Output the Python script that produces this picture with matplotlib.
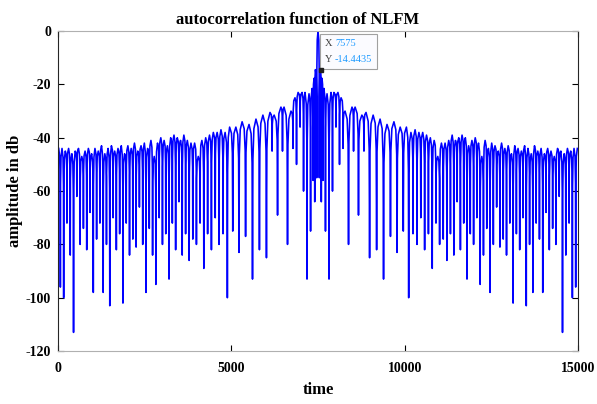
import numpy as np
import matplotlib
matplotlib.use("Agg")
import matplotlib.pyplot as plt
from matplotlib.offsetbox import TextArea, HPacker, VPacker, AnnotationBbox

# Left half of the autocorrelation (it is symmetric about t = 7500).
# Each lobe: time of its top, top level (dB), level of the null after it (dB).
t_peak = [20, 115, 210, 305, 400, 495, 590, 685, 780, 875,
          970, 1065, 1160, 1255, 1350, 1445, 1540, 1635, 1730, 1825,
          1920, 2015, 2110, 2205, 2300, 2395, 2490, 2585, 2680, 2775,
          2870, 2965, 3060, 3155, 3250, 3345, 3440, 3535, 3630, 3730,
          3835, 3940, 4045, 4150, 4260, 4370, 4480, 4590, 4700, 4820,
          4950, 5130, 5310, 5510, 5710, 5910, 6115, 6235, 6430, 6520,
          6720, 6835, 6925, 7040, 7125, 7240, 7330, 7385, 7425, 7500]
peak_db = [-44, -44, -45, -44, -46, -45, -44, -47, -45, -44,
           -46, -44, -45, -43, -46, -44, -43, -45, -44, -43,
           -46, -43, -44, -42, -45, -43, -42, -44, -41, -47,
           -42, -40, -41, -43, -40, -39, -40, -41, -39, -41,
           -42, -42, -47, -41, -40, -39, -38, -38, -37, -38,
           -36, -36, -34, -35, -33, -31.5, -30.5, -31.5, -28.5, -28.5,
           -30, -25, -23, -23, -23, -23.5, -21.5, -17.7, -14.4435, 0]
null_db = [-96, -100, -72, -84, -113, -62, -80, -74, -82, -68,
           -98, -78, -72, -98, -80, -103, -70, -82, -76, -102,
           -72, -84, -78, -81, -66, -80, -98, -74, -84, -95,
           -70, -80, -76, -93, -72, -82, -64, -84, -76, -86,
           -78, -80, -72, -89, -76, -82, -70, -80, -76, -100,
           -75, -83, -77, -93, -82, -85, -45, -69, -45, -80,
           -44, -50, -36, -60, -93, -75, -56, -64, -55]

tip_x = 7575
tip_y = -14.4435


# draw each lobe as a small arch between its nulls
def lobe_curve(tp, pk, nl):
    ts, ys = [], []
    for i in range(len(tp)):
        tl = tp[i] - 0.5 * (tp[i] - tp[i - 1]) if i > 0 else tp[i]
        tr = 0.5 * (tp[i] + tp[i + 1]) if i < len(nl) else tp[i]
        yl = nl[i - 1] if i > 0 else pk[i]
        yr = nl[i] if i < len(nl) else pk[i]
        if i > 0:
            ts += [tl, tp[i] - 0.88 * (tp[i] - tl), tp[i] - 0.6 * (tp[i] - tl)]
            ys += [yl, pk[i] + 0.25 * (yl - pk[i]), pk[i] + 0.06 * (yl - pk[i])]
        ts.append(tp[i])
        ys.append(pk[i])
        if i < len(nl):
            ts += [tp[i] + 0.6 * (tr - tp[i]), tp[i] + 0.88 * (tr - tp[i])]
            ys += [pk[i] + 0.06 * (yr - pk[i]), pk[i] + 0.25 * (yr - pk[i])]
    ts.append(tr)
    ys.append(yr)
    return np.array(ts), np.array(ys)


t_left, y_left = lobe_curve(t_peak, peak_db, null_db)
t_left, y_left = t_left[:-1], y_left[:-1]
t = np.concatenate([t_left, 15000 - t_left[-2::-1]])
y = np.concatenate([y_left, y_left[-2::-1]])

plt.rcParams['font.family'] = ['Liberation Serif', 'DejaVu Serif']
plt.rcParams['font.weight'] = 'bold'
plt.rcParams['axes.unicode_minus'] = False

fig = plt.figure(figsize=(5.97, 4.04), dpi=100)
ax = fig.add_axes([0.0972, 0.131, 0.871, 0.792])

ax.plot(t, y, color='#0000ff', linewidth=1.15)

ax.set_xlim(0, 15000)
ax.set_ylim(-120, 0)
ax.set_xticks([0, 5000, 10000, 15000])
ax.set_yticks([-120, -100, -80, -60, -40, -20, 0])
ax.tick_params(direction='in', top=True, right=True, length=4,
               labelsize=10, width=0.8)
ax.tick_params(axis='x', pad=8)
ax.tick_params(axis='y', pad=5)
for lab in ax.get_xticklabels() + ax.get_yticklabels():
    lab.set_fontweight('bold')
for side in ['left', 'right']:
    ax.spines[side].set_color('#262626')
for side in ['top', 'bottom']:
    ax.spines[side].set_color('#b0b0b0')

ax.set_title('autocorrelation function of NLFM', fontsize=12, fontweight='bold',
             pad=5, x=0.46)
ax.set_xlabel('time', fontsize=12, fontweight='bold', labelpad=5)
ax.set_ylabel('amplitude in db', fontsize=12, fontweight='bold', labelpad=2)

# data tip
ax.plot([tip_x], [tip_y], 's', color='#202020', markersize=2.5, zorder=5)
tk = dict(fontsize=7.5, fontweight='normal')
row1 = HPacker(children=[TextArea('X', textprops=dict(color='#404040', **tk)),
                         TextArea('7575', textprops=dict(color='#1e9bff', **tk))],
               pad=0, sep=2)
row2 = HPacker(children=[TextArea('Y', textprops=dict(color='#404040', **tk)),
                         TextArea('-14.4435', textprops=dict(color='#1e9bff', **tk))],
               pad=0, sep=2)
box = VPacker(children=[row1, row2], pad=0, sep=5)
ab = AnnotationBbox(box, (tip_x, tip_y), xybox=(3, 4), boxcoords='offset points',
                    box_alignment=(0, 0), frameon=True, pad=0.35,
                    bboxprops=dict(facecolor='#fbfbff', edgecolor='#a0a0a0', linewidth=0.8))
ax.add_artist(ab)

fig.savefig('out.png', dpi=100)
